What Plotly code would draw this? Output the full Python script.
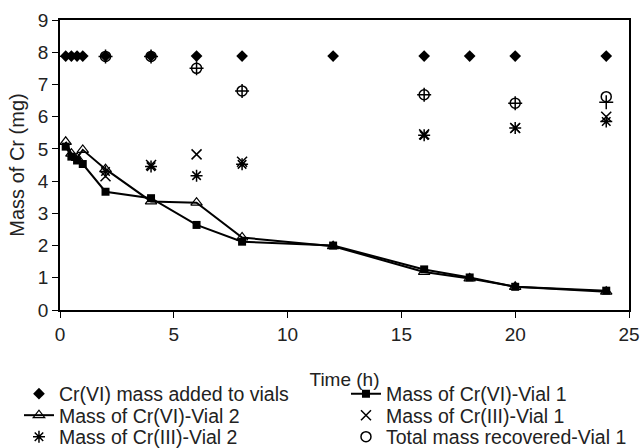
import plotly.graph_objects as go

t_added = [0.25, 0.5, 0.75, 1, 2, 4, 6, 8, 12, 16, 18, 20, 24]
cr6_added = [7.88] * len(t_added)

t_vial = [0.25, 0.5, 0.75, 1, 2, 4, 6, 8, 12, 16, 18, 20, 24]
cr6_vial1 = [5.07, 4.76, 4.64, 4.53, 3.67, 3.47, 2.64, 2.12, 2.0, 1.26, 1.01, 0.72, 0.6]
cr6_vial2 = [5.22, 4.85, 4.72, 4.97, 4.37, 3.37, 3.33, 2.25, 1.98, 1.18, 0.98, 0.72, 0.57]

t_cr3 = [2, 4, 6, 8, 16, 20, 24]
cr3_vial1 = [4.15, 4.5, 4.83, 4.6, 5.45, 5.65, 6.0]
cr3_vial2 = [4.3, 4.45, 4.17, 4.52, 5.42, 5.65, 5.85]
total_vial1 = [7.87, 7.87, 7.5, 6.8, 6.68, 6.42, 6.62]
total_vial2 = [7.87, 7.87, 7.5, 6.8, 6.68, 6.42, 6.45]

FONT = "Liberation Sans, Arial, sans-serif"
BLK = "#000000"
TXT = "#222222"

fig = go.Figure()
fig.add_trace(go.Scatter(x=t_added, y=cr6_added, mode="markers", name="Cr(VI) mass added to vials",
                         legend="legend",
                         marker=dict(symbol="diamond", size=9, color=BLK)))
fig.add_trace(go.Scatter(x=t_vial, y=cr6_vial1, mode="lines+markers", name="Mass of Cr(VI)-Vial 1",
                         legend="legend2",
                         line=dict(color=BLK, width=2),
                         marker=dict(symbol="square", size=8, color=BLK)))
fig.add_trace(go.Scatter(x=t_vial, y=cr6_vial2, mode="lines+markers", name="Mass of Cr(VI)-Vial 2",
                         legend="legend3",
                         line=dict(color=BLK, width=2),
                         marker=dict(symbol="triangle-up-open", size=10, color=BLK, line=dict(width=1.2))))
fig.add_trace(go.Scatter(x=t_cr3, y=cr3_vial1, mode="markers", name="Mass of Cr(III)-Vial 1",
                         legend="legend4",
                         marker=dict(symbol="x-thin-open", size=10, color=BLK, line=dict(width=1.5, color=BLK))))
fig.add_trace(go.Scatter(x=t_cr3, y=cr3_vial2, mode="markers", name="Mass of Cr(III)-Vial 2",
                         legend="legend5",
                         marker=dict(symbol="asterisk-open", size=10, color=BLK, line=dict(width=1.5, color=BLK))))
fig.add_trace(go.Scatter(x=t_cr3, y=total_vial1, mode="markers", name="Total mass recovered-Vial 1",
                         legend="legend6",
                         marker=dict(symbol="circle-open", size=10, color=BLK, line=dict(width=1.5, color=BLK))))
fig.add_trace(go.Scatter(x=t_cr3, y=total_vial2, mode="markers", name="Total mass recovered-Vial 2",
                         showlegend=False,
                         marker=dict(symbol="cross-thin-open", size=10, color=BLK, line=dict(width=1.5, color=BLK))))

axis_common = dict(showgrid=False, zeroline=False, showline=True, linecolor=BLK, linewidth=1.5,
                   ticks="outside", ticklen=6, tickwidth=1.2, tickcolor=BLK, mirror=True,
                   tickfont=dict(family=FONT, size=19, color=TXT))
fig.update_xaxes(range=[0, 25], dtick=5,
                 title=dict(text="Time (h)", font=dict(family=FONT, size=19, color=TXT), standoff=29),
                 **axis_common)
fig.update_yaxes(range=[0, 9], dtick=1,
                 title=dict(text="Mass of Cr (mg)", font=dict(family=FONT, size=20, color=TXT), standoff=8),
                 **axis_common)

lg = dict(orientation="v", yanchor="middle", xanchor="left", tracegroupgap=0, itemwidth=30,
          bgcolor="rgba(0,0,0,0)", font=dict(family=FONT, size=19.5, color=TXT))
col1, col2 = -0.0721, 0.5026
row1, row2, row3 = -0.2897, -0.3638, -0.4379

fig.update_layout(
    width=643, height=448,
    margin=dict(l=60, r=14, t=20, b=138, autoexpand=False),
    paper_bgcolor="white", plot_bgcolor="white",
    font=dict(family=FONT, size=15, color=TXT),
    legend=dict(x=col1, y=row1, **lg),
    legend2=dict(x=col2, y=row1, **lg),
    legend3=dict(x=col1, y=row2, **lg),
    legend4=dict(x=col2, y=row2, **lg),
    legend5=dict(x=col1, y=row3, **lg),
    legend6=dict(x=col2, y=row3, **lg),
)

fig.write_html("out.html")
